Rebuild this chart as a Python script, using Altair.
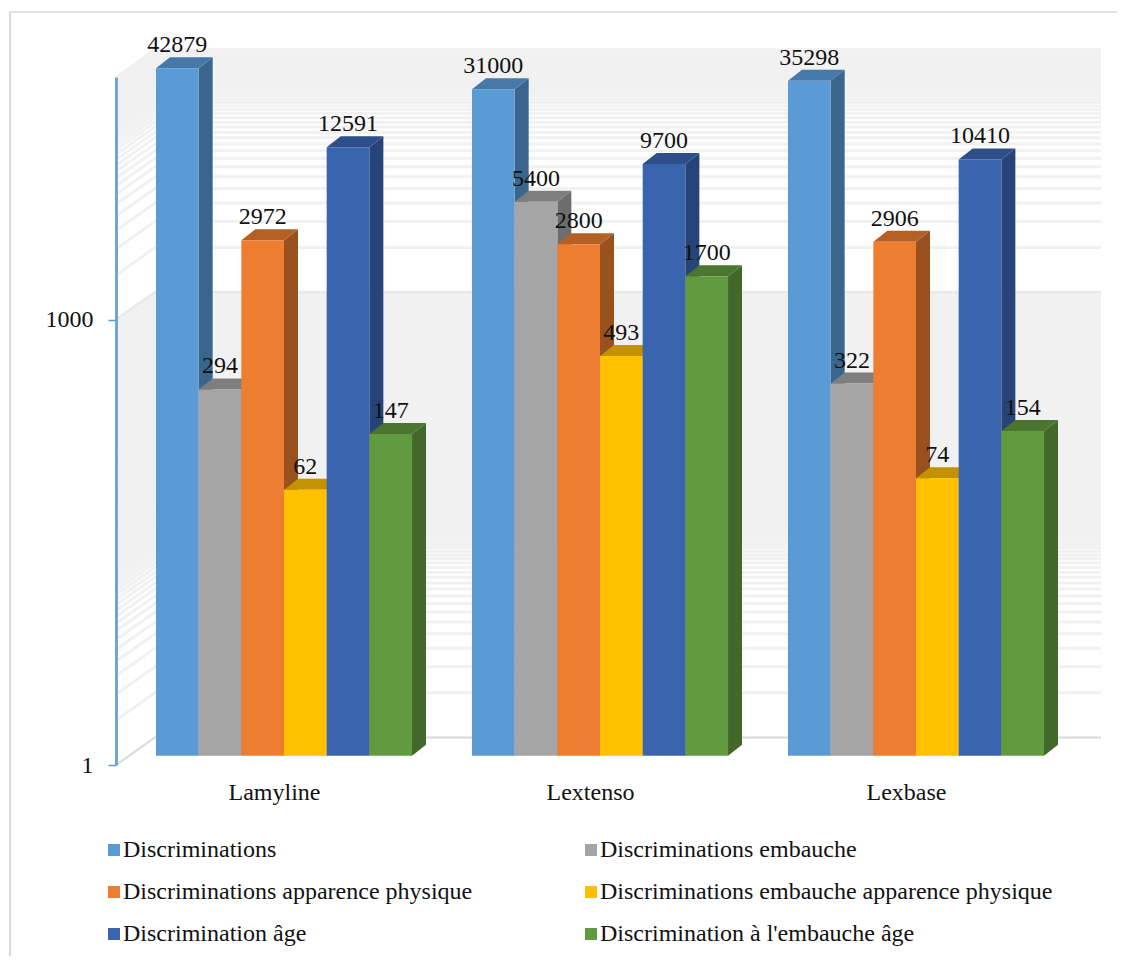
import json
import altair as alt
import pandas as pd

groups = ["Lamyline", "Lextenso", "Lexbase"]
series = [
    "Discriminations",
    "Discriminations embauche",
    "Discriminations apparence physique",
    "Discriminations embauche apparence physique",
    "Discrimination âge",
    "Discrimination à l'embauche âge",
]
values = {
    "Discriminations": [42879, 31000, 35298],
    "Discriminations embauche": [294, 5400, 322],
    "Discriminations apparence physique": [2972, 2800, 2906],
    "Discriminations embauche apparence physique": [62, 493, 74],
    "Discrimination âge": [12591, 9700, 10410],
    "Discrimination à l'embauche âge": [147, 1700, 154],
}
front_colors = ["#5B9BD5", "#A5A5A5", "#ED7D31", "#FFC000", "#3A64AD", "#619A3F"]
top_colors = ["#4679A9", "#7E7E7E", "#B45F24", "#C29200", "#2D4E88", "#4B7530"]
side_colors = ["#3A668D", "#6D6D6D", "#99511F", "#C09000", "#264478", "#43682B"]

PX_PER_DECADE = 148.4
PX_PER_BAR = 42.67
def k(px):
    return 10 ** (px / PX_PER_DECADE)

pitch = 316 / PX_PER_BAR        # group spacing, in bar widths
x_left = -40 / PX_PER_BAR       # axis plane
x_right = 945 / PX_PER_BAR      # end of the back wall
x_wall = -1 / PX_PER_BAR        # corner of the back wall
depth = 14 / PX_PER_BAR         # bar depth, horizontal
kf = k(9.3)                     # bars' plane above the axis plane
kd = k(11)                      # bar depth, vertical
kb = k(27.5)                    # back wall above the axis plane
y_max = 43250

x_scale = alt.Scale(domain=[x_left, x_right], nice=False, zero=False)
y_scale = alt.Scale(type="log", domain=[1, y_max], nice=False)
tick_pos = [g * pitch + 3 - 10 / PX_PER_BAR for g in range(len(groups))]
label_expr = f"{json.dumps(groups)}[round((datum.value - {tick_pos[0]}) / {pitch})]"
x_axis = alt.Axis(values=tick_pos, labelExpr=label_expr, domain=False, ticks=False, grid=False,
                  labelPadding=15, labelFontSize=24, labelColor="#111111", title=None)
y_axis = alt.Axis(values=[1, 1000], format="d", domain=True, domainColor="#6FA6DA", domainWidth=3,
                  ticks=True, tickColor="#5B9BD5", tickSize=8, tickWidth=1.5, grid=False, zindex=1,
                  labelPadding=15, labelFontSize=24, labelColor="#111111", title=None)
X = alt.X("x:Q", scale=x_scale, axis=x_axis)
Y = alt.Y("y:Q", scale=y_scale, axis=y_axis, stack=False)
X2 = alt.X2("x2:Q")
Y2 = alt.Y2("y2:Q")

# back wall and left wall gridlines
levels = list(range(1, 1000)) + list(range(1000, 44000, 1000))
wall_rows = []
for lv in levels:
    wall_rows += [
        {"lv": lv, "x": x_left, "y": lv, "o": 0},
        {"lv": lv, "x": x_wall, "y": lv * kb, "o": 1},
        {"lv": lv, "x": x_right, "y": lv * kb, "o": 2},
    ]
wall_df = pd.DataFrame(wall_rows)
wall_y = alt.Y("y:Q", scale=y_scale, axis=y_axis)
layers = [
    alt.Chart(wall_df[(wall_df.lv > 1) & (wall_df.lv != 1000)]).mark_line(color="#F1F1F1", strokeWidth=3).encode(
        x=X, y=wall_y, detail="lv:N", order="o:Q"),
    alt.Chart(wall_df[wall_df.lv == 1000]).mark_line(color="#E8E8E8", strokeWidth=2).encode(
        x=X, y=wall_y, detail="lv:N", order="o:Q"),
    alt.Chart(wall_df[wall_df.lv == 1]).mark_line(color="#D9D9D9", strokeWidth=2).encode(
        x=X, y=wall_y, detail="lv:N", order="o:Q"),
]

color_scale = alt.Scale(domain=series, range=front_colors)
legend = alt.Legend(
    orient="none", legendX=-14, legendY=761, title=None, columns=2, direction="horizontal",
    symbolType="square", symbolSize=144,
    symbolStrokeWidth=0, labelFontSize=24, labelColor="#111111", labelOffset={"expr": "-3"}, rowPadding=18,
    columnPadding=106, labelLimit=600, symbolOpacity=1,
)

for i, s in enumerate(series):
    front, top, side = [], [], []
    for g, v in enumerate(values[s]):
        l = g * pitch + i
        r = l + 1
        vf = v * kf
        vb = vf * kd
        base = kf
        front.append({"x": l, "x2": r, "y": vf, "y2": base, "s": s})
        side += [
            {"bar": g, "x": r, "y": vf, "y2": base},
            {"bar": g, "x": r + depth, "y": vb, "y2": base * kd},
        ]
        top += [
            {"bar": g, "x": l, "y": vf, "y2": vf},
            {"bar": g, "x": l + depth, "y": vb, "y2": vf},
            {"bar": g, "x": r, "y": vb, "y2": vf},
            {"bar": g, "x": r + depth, "y": vb, "y2": vb},
        ]
    layers.append(alt.Chart(pd.DataFrame(side)).mark_area(color=side_colors[i], orient="vertical").encode(
        x=X, y=Y, y2=Y2, detail="bar:N"))
    layers.append(alt.Chart(pd.DataFrame(top)).mark_area(color=top_colors[i], orient="vertical").encode(
        x=X, y=Y, y2=Y2, detail="bar:N"))
    layers.append(alt.Chart(pd.DataFrame(front)).mark_rect().encode(
        x=X, x2=X2, y=Y, y2=Y2,
        color=alt.Color("s:N", scale=color_scale, legend=legend, sort=series)))

label_rows = []
for i, s in enumerate(series):
    for g, v in enumerate(values[s]):
        label_rows.append({"x": g * pitch + i + 0.5, "y": v * kf * kd, "t": str(v)})
layers.append(alt.Chart(pd.DataFrame(label_rows)).mark_text(
    fontSize=24, color="#111111", dy=-5, baseline="alphabetic", align="center").encode(x=X, y=Y, text="t:N"))

frame_top = alt.Chart(pd.DataFrame({"a": [0]})).mark_rule(color="#D9D9D9", strokeWidth=1.5).encode(
    x=alt.value(-106), x2=alt.value(1001), y=alt.value(-65))
frame_left = alt.Chart(pd.DataFrame({"a": [0]})).mark_rule(color="#D9D9D9", strokeWidth=2).encode(
    x=alt.value(-106), y=alt.value(-65), y2=alt.value(879))
layers += [frame_top, frame_left]

chart = (
    alt.layer(*layers)
    .properties(width=985, height=688, padding={"left": 1, "top": 3, "right": 0, "bottom": 0},
                background="white")
    .configure(font="Liberation Serif")
    .configure_view(stroke=None)
)
chart.save("out.html", embed_options={"renderer": "svg", "actions": False})
